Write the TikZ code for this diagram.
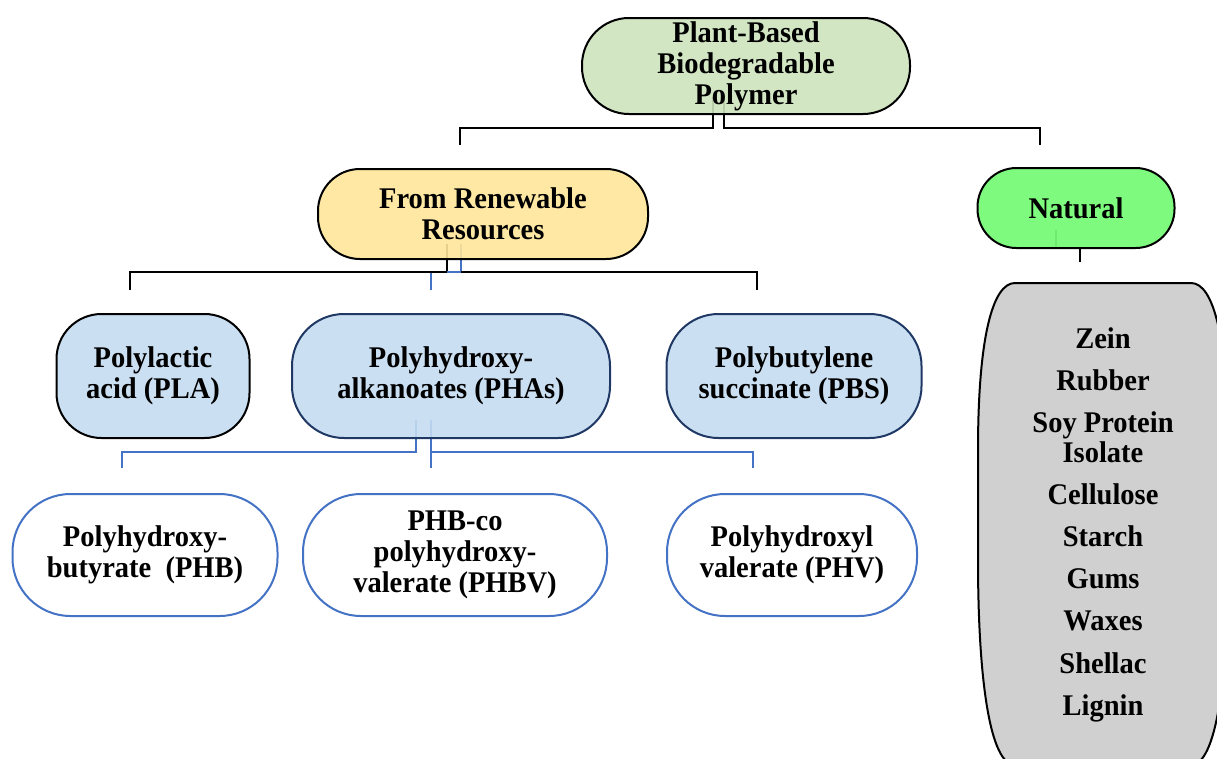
\documentclass[tikz,border=0pt]{standalone}
\usepackage{fontspec}
\setmainfont{Liberation Serif}[FakeStretch=0.95]
\usetikzlibrary{calc}
\pgfdeclarelayer{bg}
\pgfsetlayers{bg,main}
\definecolor{topgreen}{RGB}{206,227,188}
\definecolor{renyellow}{RGB}{255,230,153}
\definecolor{natgreen}{RGB}{112,250,112}
\definecolor{lightblue}{RGB}{196,219,240}
\definecolor{navy}{RGB}{31,56,100}
\definecolor{blueline}{RGB}{68,114,196}
\definecolor{greyfill}{RGB}{208,208,208}
\tikzset{
  box/.style={draw, line width=2pt, inner sep=0pt, align=center, fill opacity=0.9, text opacity=1,
    font=\fontsize{30}{31}\selectfont\bfseries},
  conn/.style={line width=2pt, draw=black},
  bconn/.style={line width=2pt, draw=blueline},
  item/.style={inner sep=0pt, text height=20pt, text depth=0pt, font=\fontsize{30}{31}\selectfont\bfseries},
}
\begin{document}
\begin{tikzpicture}[x=1pt,y=-1pt]
\useasboundingbox (0,0) rectangle (1217,758);

% nodes
\node[box, fill=topgreen, minimum width=328pt, minimum height=96pt, rounded corners=47pt] (top) at (746,66) {Plant-Based\\Biodegradable\\Polymer};
\node[box, fill=renyellow, minimum width=330pt, minimum height=90pt, rounded corners=42pt] (fr) at (483,214) {From Renewable\\Resources};
\node[box, fill=natgreen, minimum width=197pt, minimum height=80pt, rounded corners=39pt] (nat) at (1076,208) {Natural};

\node[box, fill=lightblue, minimum width=193pt, minimum height=124pt, rounded corners=45pt] (pla) at (153,376) {Polylactic\\acid (PLA)};
\node[box, fill=lightblue, draw=navy, minimum width=318pt, minimum height=124pt, rounded corners=52pt] (pha) at (451,376) {Polyhydroxy-\\alkanoates (PHAs)};
\node[box, fill=lightblue, draw=navy, minimum width=255pt, minimum height=124pt, rounded corners=52pt] (pbs) at (794,376) {Polybutylene\\succinate (PBS)};

\node[box, fill=white, draw=blueline, minimum width=265pt, minimum height=122pt, rounded corners=58pt] (phb) at (145,555) {Polyhydroxy-\\butyrate\ \ (PHB)};
\node[box, fill=white, draw=blueline, minimum width=304pt, minimum height=122pt, rounded corners=58pt] (phbv) at (455,555) {PHB-co\\polyhydroxy-\\valerate (PHBV)};
\node[box, fill=white, draw=blueline, minimum width=250pt, minimum height=122pt, rounded corners=58pt] (phv) at (792,555) {Polyhydroxyl\\valerate (PHV)};

% grey list box
\begin{scope}
\clip (0,0) rectangle (1217,758);
\draw[line width=2pt, fill=greyfill] (1015,283) -- (1191,283)
  .. controls (1214,283) and (1228,340) .. (1228,450) -- (1228,560)
  .. controls (1228,680) and (1216,765) .. (1191,765) -- (1015,765)
  .. controls (990,765) and (978,680) .. (978,560) -- (978,450)
  .. controls (978,340) and (992,283) .. (1015,283) -- cycle;
\end{scope}
\foreach \t/\y [count=\i] in {Zein/338, Rubber/380, Soy Protein/422, Isolate/452, Cellulose/494, Starch/536, Gums/578, Waxes/620, Shellac/663, Lignin/705}
  \node[item] (g\i) at (1103,\y) {\t};

% connector coordinates
\coordinate (j1a) at (713,128);
\coordinate (j1b) at (724,128);
\coordinate (e1a) at (460,145);
\coordinate (e1b) at (1040,145);

\coordinate (j2) at (447,272);
\coordinate (h2a) at (130,272);
\coordinate (h2c) at (757,272);
\coordinate (e2a) at (130,290);
\coordinate (e2c) at (757,290);
\coordinate (b2) at (461,272);
\coordinate (b2l) at (431,272);
\coordinate (e2b) at (431,290);

\coordinate (j3a) at (416,452);
\coordinate (j3b) at (431,452);
\coordinate (e3a) at (122,468);
\coordinate (e3b) at (431,468);
\coordinate (e3c) at (753,468);

\coordinate (e4) at (1080,262);
\coordinate (g0) at (1056,230);

\begin{pgfonlayer}{bg}
% level 1
\draw[conn] ([yshift=18pt]top.south -| j1a) -- (j1a) -| (e1a);
\draw[conn] ([yshift=18pt]top.south -| j1b) -- (j1b) -| (e1b);
% level 2
\draw[bconn] ([yshift=16pt]fr.south -| b2) -- (b2) -- (b2l) -- (e2b);
\draw[conn] ([yshift=16pt]fr.south -| j2) -- (j2);
\draw[conn] (e2a) -- (h2a) -- (h2c) -- (e2c);
\draw[bconn] (b2) -- (j2);
% level 3
\draw[bconn] ([yshift=19pt]pha.south -| j3a) -- (j3a) -| (e3a);
\draw[bconn] ([yshift=19pt]pha.south -| j3b) -- (e3b);
\draw[bconn] (j3b) -| (e3c);
% natural
\draw[conn] (nat.south -| e4) -- (e4);
\draw[line width=1.5pt, draw=black!60] (g0) -- (g0 |- nat.south);
\end{pgfonlayer}
\end{tikzpicture}
\end{document}
